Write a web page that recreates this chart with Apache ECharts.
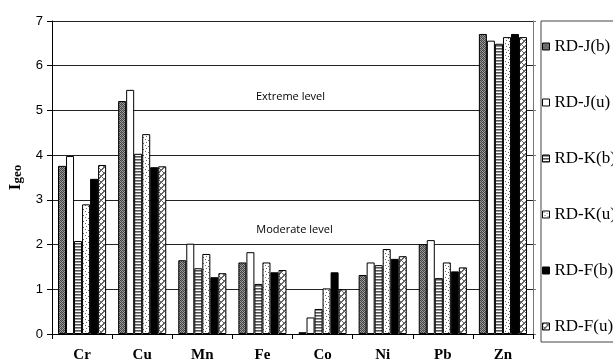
<!DOCTYPE html>
<html>
<head>
<meta charset="utf-8">
<script src="https://cdn.jsdelivr.net/npm/echarts@6/dist/echarts.min.js"></script>
<style>html,body{margin:0;padding:0;background:#fff;}#c{width:613px;height:361px;}</style>
</head>
<body>
<div id="c"></div>
<script>
const categories = ['Cr', 'Cu', 'Mn', 'Fe', 'Co', 'Ni', 'Pb', 'Zn'];
const seriesNames = ['RD-J(b)', 'RD-J(u)', 'RD-K(b)', 'RD-K(u)', 'RD-F(b)', 'RD-F(u)'];
const rdJb = [3.76, 5.21, 1.65, 1.60, 0.04, 1.32, 2.01, 6.71];
const rdJu = [3.98, 5.46, 2.02, 1.83, 0.37, 1.60, 2.10, 6.56];
const rdKb = [2.08, 4.03, 1.47, 1.12, 0.56, 1.54, 1.25, 6.49];
const rdKu = [2.90, 4.47, 1.79, 1.60, 1.02, 1.90, 1.60, 6.64];
const rdFb = [3.47, 3.73, 1.27, 1.38, 1.38, 1.68, 1.40, 6.71];
const rdFu = [3.78, 3.75, 1.36, 1.43, 1.00, 1.74, 1.49, 6.64];
const yTicks = [0, 1, 2, 3, 4, 5, 6, 7];
const annotations = [
  { text: 'Extreme level', between: ['Fe', 'Co'], value: 5.3, dx: -2 },
  { text: 'Moderate level', between: ['Fe', 'Co'], value: 2.33, dx: 2 }
];

function pat(w, h, draw) {
  const c = document.createElement('canvas');
  c.width = w; c.height = h;
  const g = c.getContext('2d');
  draw(g);
  return { image: c, repeat: 'repeat' };
}
const fills = [
  pat(4, 4, g => { g.fillStyle = '#a0a0a0'; g.fillRect(0,0,4,4); g.fillStyle = '#454545';
    g.fillRect(0,0,1,1); g.fillRect(2,0,1,1); g.fillRect(1,1,1,1); g.fillRect(3,1,1,1);
    g.fillRect(0,2,1,1); g.fillRect(2,2,1,1); g.fillRect(1,3,1,1); g.fillRect(3,3,1,1);
    g.fillStyle='#777'; g.fillRect(1,0,1,1); g.fillRect(3,2,1,1); }),
  '#ffffff',
  pat(3, 3, g => { g.fillStyle = '#fff'; g.fillRect(0,0,3,3); g.fillStyle = '#555'; g.fillRect(0,0,3,1); g.fillStyle = '#999'; g.fillRect(0,1,3,1); }),
  pat(6, 6, g => { g.fillStyle = '#fff'; g.fillRect(0,0,6,6); g.fillStyle = '#666';
    g.fillRect(1,1,1,1); g.fillRect(4,2,1,1); g.fillRect(2,4,1,1); g.fillRect(5,5,1,1); }),
  '#000000',
  pat(6, 6, g => { g.fillStyle = '#fff'; g.fillRect(0,0,6,6); g.fillStyle = '#666';
    for (let i = 0; i < 6; i++) { g.fillRect(i, (6 - i) % 6, 1, 1); g.fillRect(i, (7 - i) % 6, 1, 1); g.fillRect((i+3)%6, i, 1, 1); } })
];
const dataSets = [rdJb, rdJu, rdKb, rdKu, rdFb, rdFu];

const chart = echarts.init(document.getElementById('c'), null, { renderer: 'canvas' });
const option = {
  animation: false,
  backgroundColor: '#fff',
  grid: { left: 52, right: 80, top: 21, bottom: 27, containLabel: false, outerBoundsMode: 'none' },
  legend: {
    orient: 'vertical', left: 541, top: 21,
    padding: [17, 40, 7, 1],
    itemWidth: 7, itemHeight: 7, itemGap: 39,
    borderColor: '#444', borderWidth: 1,
    icon: 'rect',
    itemStyle: { borderColor: '#000', borderWidth: 1 },
    textStyle: { fontFamily: 'Liberation Serif', fontSize: 17, color: '#000', lineHeight: 16 },
    data: seriesNames
  },
  xAxis: {
    type: 'category', data: categories,
    axisLine: { lineStyle: { color: '#000', width: 1 } },
    axisTick: { show: true, length: 5, alignWithLabel: false, lineStyle: { color: '#000' } },
    axisLabel: { fontFamily: 'Liberation Serif', fontWeight: 'bold', fontSize: 15, color: '#000', margin: 14 }
  },
  yAxis: [{
    type: 'value', min: 0, max: 7, interval: 1,
    name: '{i|I}{s|geo}', nameLocation: 'middle', nameGap: 28, nameRotate: 90,
    nameTextStyle: {
      rich: {
        i: { fontFamily: 'Liberation Serif', fontWeight: 'bold', fontSize: 17, color: '#000', lineHeight: 18, verticalAlign: 'bottom' },
        s: { fontFamily: 'Liberation Serif', fontWeight: 'bold', fontSize: 13, color: '#000', lineHeight: 8, verticalAlign: 'bottom' }
      }
    },
    axisLine: { show: true, lineStyle: { color: '#000', width: 1 } },
    axisTick: { show: true, length: 5, lineStyle: { color: '#000' } },
    axisLabel: { fontFamily: 'Liberation Sans', fontSize: 13, color: '#000', margin: 9,
      formatter: v => yTicks.indexOf(v) >= 0 ? String(v) : '' },
    splitLine: { show: true, lineStyle: { color: '#222', width: 1 } }
  }, {
    type: 'value', min: 0, max: 7, interval: 1, position: 'right',
    axisLine: { show: true, lineStyle: { color: '#777', width: 1 } },
    axisTick: { show: true, length: 3, lineStyle: { color: '#777' } },
    axisLabel: { show: false },
    splitLine: { show: false }
  }],
  series: seriesNames.map((n, i) => ({
    name: n, type: 'bar', data: dataSets[i],
    barGap: '0%', barCategoryGap: '20%',
    itemStyle: { color: fills[i], borderColor: '#000', borderWidth: 1 }
  }))
};
chart.setOption(option);

function placeAnnotations() {
  const els = annotations.map(a => {
    const x1 = chart.convertToPixel({ xAxisIndex: 0 }, a.between[0]);
    const x2 = chart.convertToPixel({ xAxisIndex: 0 }, a.between[1]);
    const y = chart.convertToPixel({ yAxisIndex: 0 }, a.value);
    return {
      type: 'text', x: (x1 + x2) / 2 + a.dx, y: y,
      style: { text: a.text, fontFamily: 'Open Sans', fontSize: 11, fill: '#000', align: 'center', verticalAlign: 'middle' },
      z: 10
    };
  });
  chart.setOption({ graphic: els });
}
placeAnnotations();
</script>
</body>
</html>
